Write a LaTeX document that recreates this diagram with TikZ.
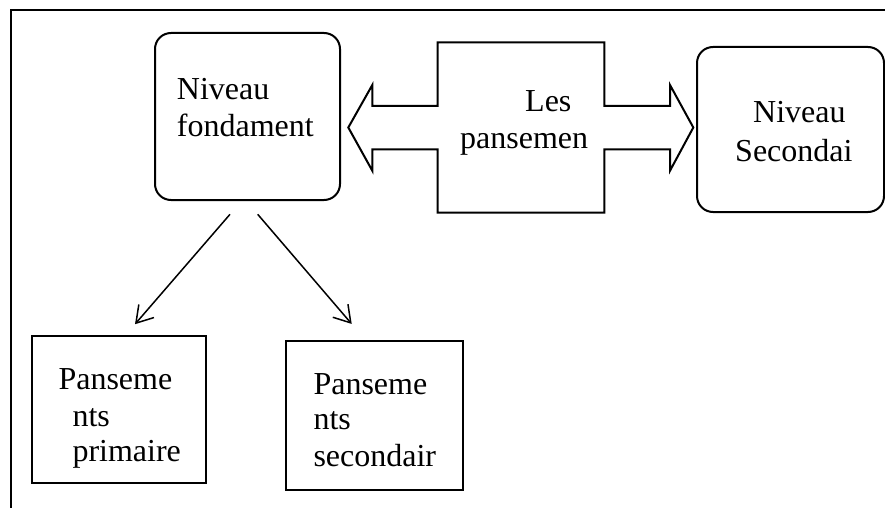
\documentclass[tikz,border=0pt]{standalone}
\usepackage{fontspec}
\setmainfont{Liberation Serif}
\usetikzlibrary{arrows.meta}
\begin{document}
\begin{tikzpicture}
      [
      x=1pt,y=-1pt,
      level/.style={draw,line width=2pt,rounded corners=16pt,inner sep=0pt},
      dressing/.style={draw,line width=2pt,rectangle,inner sep=0pt},
      txt/.style={inner sep=0pt,align=left,anchor=base west,font=\fontsize{32}{37}\selectfont},
      link/.style={line width=1.5pt,-{Straight Barb[length=16pt,width=20pt,line width=1.5pt]}}
      ]
      \useasboundingbox (0,0) rectangle (885,508);
      \draw [line width=2pt] (885,10) -- (11,10) -- (11,508);
      \node (fond) at (247.5,116.5) [level,minimum width=185pt,minimum height=167pt] {};
      \node (sec) at (790.5,129.5) [level,minimum width=187pt,minimum height=165pt] {};
      \node (prim) at (118.6,409.7) [dressing,minimum width=174pt,minimum height=147pt] {};
      \node (secd) at (374.5,415.3) [dressing,minimum width=177.6pt,minimum height=149.3pt] {};
      \draw [line width=2pt] (437.7,42.3) -- (604.3,42.3) -- (604.3,106) -- (670,106) -- (670,85)
        -- (693.3,127.5) -- (670,170.7) -- (670,149.3) -- (604.3,149.3) -- (604.3,212.7)
        -- (437.7,212.7) -- (437.7,149.3) -- (372.3,149.3) -- (372.3,170.7) -- (348.3,127.5)
        -- (372.3,85) -- (372.3,106) -- (437.7,106) -- cycle;
      % base anchor sits on the last line
      \node (fondT) at (176.7,136.7) [txt] {Niveau\\fondament};
      \node (secT) at (735,161) [txt] {\hspace*{18pt}Niveau\\[2pt]Secondai};
      \node (pansT) at (460,148.3) [txt] {\hspace*{65pt}Les\\pansemen};
      \node (primT) at (58.3,461.7) [txt] {Panseme\\\hspace*{14pt}nts\\[-2pt]\hspace*{14pt}primaire};
      \node (secdT) at (313.3,466.7) [txt] {Panseme\\[-2pt]nts\\secondair};
      \draw [link] ([xshift=-17.5pt,yshift=-13.3pt]fond.south) -- ([xshift=16.4pt,yshift=11pt]prim.north);
      \draw [link] ([xshift=10.2pt,yshift=-13.3pt]fond.south) -- ([xshift=-22.8pt,yshift=15.7pt]secd.north);
    \end{tikzpicture}
\end{document}
